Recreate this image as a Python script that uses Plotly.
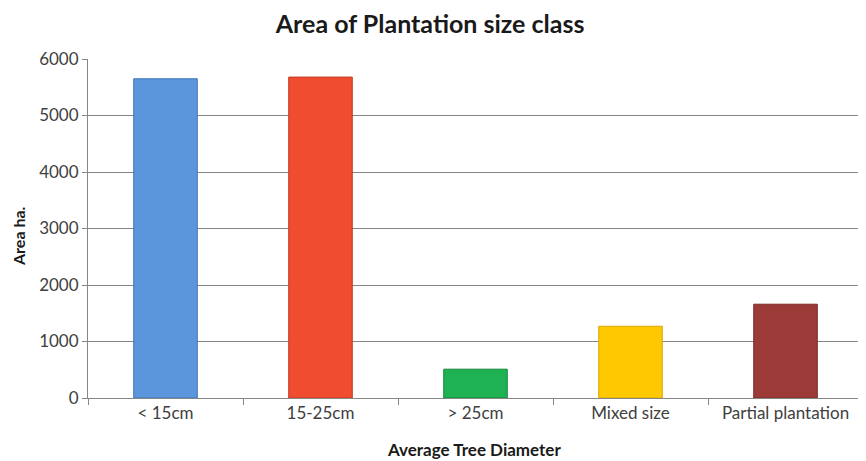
import plotly.graph_objects as go

categories = ["< 15cm", "15-25cm", "> 25cm", "Mixed size", "Partial plantation"]
area_ha = [5650, 5680, 510, 1270, 1660]
bar_colors = ["#5B96DD", "#F04C30", "#1EB252", "#FFC800", "#9C3A38"]
edge_colors = ["#3F74B5", "#C23A22", "#15893E", "#D9A800", "#7A2A28"]
y_ticks = [0, 1000, 2000, 3000, 4000, 5000, 6000]

fig = go.Figure(go.Bar(
    x=categories, y=area_ha, width=0.41,
    marker=dict(color=bar_colors, line=dict(color=edge_colors, width=1)),
))

font_family = "Lato, Open Sans, sans-serif"
fig.update_layout(
    width=858, height=453,
    margin=dict(l=80, r=3, t=51, b=63),
    paper_bgcolor="white", plot_bgcolor="white",
    showlegend=False,
    title=dict(text="<b>Area of Plantation size class</b>", x=0.492, xanchor="center",
               y=0.965, yanchor="middle",
               font=dict(family=font_family, size=25, color="#1a1a1a")),
    font=dict(family=font_family, size=17, color="#404040"),
    annotations=[
        dict(text="<b>Average Tree Diameter</b>", xref="paper", yref="paper",
             x=0.498, y=-0.153, xanchor="center", yanchor="middle", showarrow=False,
             font=dict(family=font_family, size=17, color="#1a1a1a")),
        dict(text="<b>Area ha.</b>", xref="paper", yref="paper",
             x=-0.089, y=0.478, xanchor="center", yanchor="middle", showarrow=False,
             textangle=-90,
             font=dict(family=font_family, size=16, color="#1a1a1a")),
    ],
)
fig.update_xaxes(
    type="category", tickson="boundaries", ticks="outside", ticklen=6,
    tickcolor="#868686", showline=True, linecolor="#868686", linewidth=1,
    showgrid=False, automargin=False, tickfont=dict(size=17, color="#404040"),
)
fig.update_yaxes(
    range=[0, 6000], tickvals=y_ticks, ticks="outside", ticklen=5,
    tickcolor="#868686", showline=True, linecolor="#868686", linewidth=1,
    showgrid=True, gridcolor="#868686", gridwidth=1, zeroline=False,
    automargin=False, tickfont=dict(size=17, color="#404040"),
)

fig.write_html("out.html")
